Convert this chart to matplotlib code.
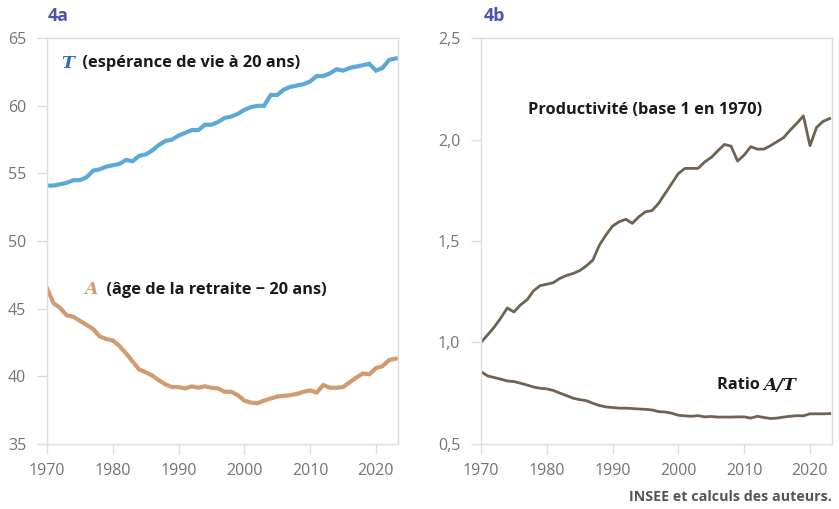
import matplotlib.pyplot as plt
import numpy as np

years = np.arange(1970, 2024)

# 4a : espérance de vie à 20 ans (T) et âge de la retraite - 20 ans (A)
esperance_T = [54.1, 54.1, 54.2, 54.3, 54.5, 54.5, 54.7, 55.2, 55.3, 55.5,
               55.6, 55.7, 56.0, 55.9, 56.3, 56.4, 56.7, 57.1, 57.4, 57.5,
               57.8, 58.0, 58.2, 58.2, 58.6, 58.6, 58.8, 59.1, 59.2, 59.4,
               59.7, 59.9, 60.0, 60.0, 60.8, 60.8, 61.2, 61.4, 61.5, 61.6,
               61.8, 62.2, 62.2, 62.4, 62.7, 62.6, 62.8, 62.9, 63.0, 63.1,
               62.6, 62.8, 63.4, 63.5]
retraite_A = [46.5, 45.4, 45.05, 44.5, 44.4, 44.1, 43.8, 43.5, 42.95, 42.75,
              42.65, 42.25, 41.7, 41.1, 40.5, 40.3, 40.05, 39.7, 39.4, 39.2,
              39.2, 39.1, 39.25, 39.15, 39.25, 39.15, 39.1, 38.85, 38.85, 38.6,
              38.2, 38.05, 38.0, 38.2, 38.35, 38.5, 38.55, 38.6, 38.7, 38.85,
              38.95, 38.8, 39.35, 39.15, 39.15, 39.2, 39.55, 39.9, 40.2, 40.15,
              40.6, 40.75, 41.2, 41.3]

# 4b : productivité (base 1 en 1970) et ratio A/T
productivite = [1.0, 1.037, 1.075, 1.12, 1.17, 1.15, 1.185, 1.21, 1.255, 1.28,
                1.287, 1.295, 1.316, 1.33, 1.34, 1.354, 1.377, 1.406, 1.48, 1.53,
                1.574, 1.595, 1.607, 1.587, 1.62, 1.644, 1.65, 1.686, 1.735, 1.784,
                1.833, 1.858, 1.858, 1.858, 1.89, 1.912, 1.945, 1.976, 1.968, 1.894,
                1.924, 1.965, 1.953, 1.953, 1.97, 1.99, 2.01, 2.047, 2.08, 2.117,
                1.97, 2.06, 2.09, 2.104]
ratio_AT = [0.856, 0.835, 0.827, 0.819, 0.81, 0.807, 0.799, 0.79, 0.78, 0.774,
            0.771, 0.763, 0.75, 0.738, 0.725, 0.718, 0.713, 0.70, 0.689, 0.682,
            0.679, 0.676, 0.676, 0.674, 0.672, 0.67, 0.667, 0.659, 0.657, 0.651,
            0.641, 0.638, 0.636, 0.639, 0.633, 0.635, 0.632, 0.632, 0.632, 0.633,
            0.633, 0.627, 0.636, 0.630, 0.625, 0.627, 0.632, 0.636, 0.639, 0.638,
            0.648, 0.648, 0.648, 0.649]

x_ticks = [1970, 1980, 1990, 2000, 2010, 2020]
left_yticks = [35, 40, 45, 50, 55, 60, 65]
right_yticks = [0.5, 1.0, 1.5, 2.0, 2.5]

plt.rcParams['font.family'] = ['Open Sans', 'DejaVu Sans']

blue = '#5ba8d9'
tan = '#d19b6f'
brown = '#6f6252'
title_color = '#4b56a6'
grid_grey = '#dcdcdc'
tick_grey = '#737373'
text_black = '#1a1a1a'
serif = ['DejaVu Serif']

fig = plt.figure(figsize=(8.39, 5.09), dpi=100)
ax1 = fig.add_axes([0.056, 0.128, 0.418, 0.797])
ax2 = fig.add_axes([0.5733, 0.128, 0.418, 0.797])


def style_axis(ax):
    for s in ax.spines.values():
        s.set_color(grid_grey)
        s.set_linewidth(1.0)
    ax.tick_params(axis='both', colors=grid_grey, labelcolor=tick_grey, labelsize=11.5, length=7.5, width=1)
    ax.tick_params(axis='y', pad=7.5)
    ax.tick_params(axis='x', pad=6)
    ax.set_xlim(1970, 2023.3)
    ax.set_xticks(x_ticks)


# ---- 4a
style_axis(ax1)
ax1.plot(years, esperance_T, color=blue, lw=3.0, solid_joinstyle='miter')
ax1.plot(years, retraite_A, color=tan, lw=3.0, solid_joinstyle='miter')
ax1.set_ylim(35, 65)
ax1.set_yticks(left_yticks)
ax1.set_yticklabels([str(v) for v in left_yticks])

t1 = ax1.text(1972.2, 63.15, 'T', color='#2b6cb0', fontsize=12.5, family=serif, style='italic', weight='bold', va='center')
ax1.annotate('  (espérance de vie à 20 ans)', xy=(1, 0.5), xycoords=t1, va='center', fontsize=11.8, weight='bold', color=text_black)
t2 = ax1.text(1975.7, 46.4, 'A', color=tan, fontsize=12.5, family=serif, style='italic', weight='bold', va='center')
ax1.annotate('  (âge de la retraite − 20 ans)', xy=(1, 0.5), xycoords=t2, va='center', fontsize=11.8, weight='bold', color=text_black)

fig.text(0.057, 0.968, '4a', color=title_color, fontsize=13, weight='bold', va='center')

# ---- 4b
style_axis(ax2)
ax2.plot(years, productivite, color=brown, lw=2.0)
ax2.plot(years, ratio_AT, color=brown, lw=2.0)
ax2.set_ylim(0.5, 2.5)
ax2.set_yticks(right_yticks)
ax2.set_yticklabels([f'{v:.1f}'.replace('.', ',') for v in right_yticks])

ax2.text(1977.1, 2.145, 'Productivité (base 1 en 1970)', fontsize=11.8, weight='bold', color=text_black, va='center')
t3 = ax2.text(2005.8, 0.79, 'Ratio ', fontsize=11.8, weight='bold', color=text_black, va='center')
ax2.annotate('A/T', xy=(1, 0.5), xycoords=t3, va='center', fontsize=12.5, family=serif, style='italic', weight='bold', color=text_black)

fig.text(0.5765, 0.968, '4b', color=title_color, fontsize=13, weight='bold', va='center')

fig.text(0.992, 0.024, 'INSEE et calculs des auteurs.', ha='right', va='center', fontsize=10.3, weight='bold', color='#555555')

fig.savefig('out.png', dpi=100)
